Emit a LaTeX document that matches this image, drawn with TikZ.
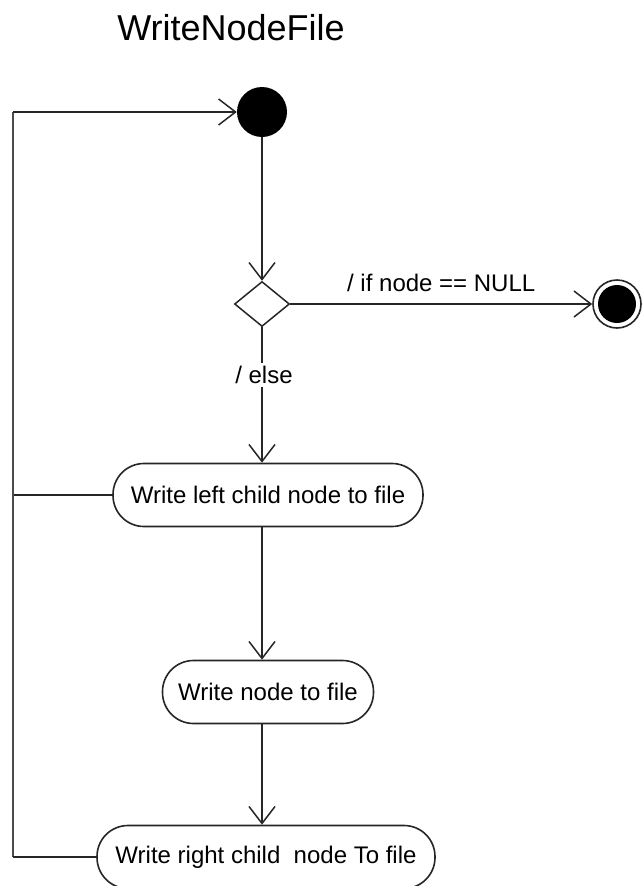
\documentclass[tikz,border=0pt]{standalone}
\usepackage{fontspec}
\setmainfont{Liberation Sans}
\usetikzlibrary{arrows.meta,shapes.geometric}
\begin{document}
\begin{tikzpicture}[x=1pt,y=-1pt,
  flow/.style={draw=black!85,line width=1.7pt},
  vee/.style={-{Straight Barb[length=17pt,width=26pt,line width=1.5pt]}},
  activity/.style={draw=black!85,line width=1.6pt,fill=white,rounded corners=31pt,
    minimum height=63pt,inner sep=0pt,font=\fontsize{24}{28}\selectfont},
  guard/.style={font=\fontsize{24}{28}\selectfont,fill=white,inner sep=3pt}]
\useasboundingbox (0,0) rectangle (641,886);

% title
\node[font=\fontsize{36}{40}\selectfont] (title) at (231,28) {WriteNodeFile};

% initial and final states
\node[circle,fill=black,minimum size=50pt,inner sep=0pt] (start) at (262,112) {};
\node[diamond,draw=black!85,line width=1.5pt,minimum width=55pt,minimum height=45pt,inner sep=0pt,fill=white] (dec) at (262,304) {};
\node[circle,draw=black!85,line width=1.6pt,minimum size=48pt,inner sep=0pt] (final) at (617,304) {};
\node[circle,fill=black,minimum size=38pt,inner sep=0pt] at (final.center) {};

% activities
\node[activity,minimum width=310pt] (left) at (268,495) {Write left child node to file};
\node[activity,minimum width=211pt] (self) at (268,692) {Write node to file};
\node[activity,minimum width=338pt] (right) at (266,857) {Write right child~ node To file};

% flow
\draw[flow,vee] (start) -- (dec);
\draw[flow,vee] (dec) -- node[pos=0.5,above=8pt,font=\fontsize{24}{28}\selectfont] {/ if node == NULL} (final);
\draw[flow,vee] (dec.south) -- (dec.south |- left.north);
\node[guard] (else) at (264,375) {/ else};
\draw[flow,vee] (left.south -| 262,0) -- (self.north -| 262,0);
\draw[flow,vee] (self.south -| 262,0) -- (right.north -| 262,0);

% loop back to the start
\coordinate (bl) at (13,857);
\coordinate (ml) at (13,495);
\coordinate (tl) at (13,112);
\draw[flow] (left.west) -- (ml);
\draw[flow,draw=black!70,line width=2.4pt] (bl) -- (tl);
\draw[flow] (right.west) -- (bl);
\draw[flow,vee] (tl) -- (start);
\end{tikzpicture}
\end{document}
